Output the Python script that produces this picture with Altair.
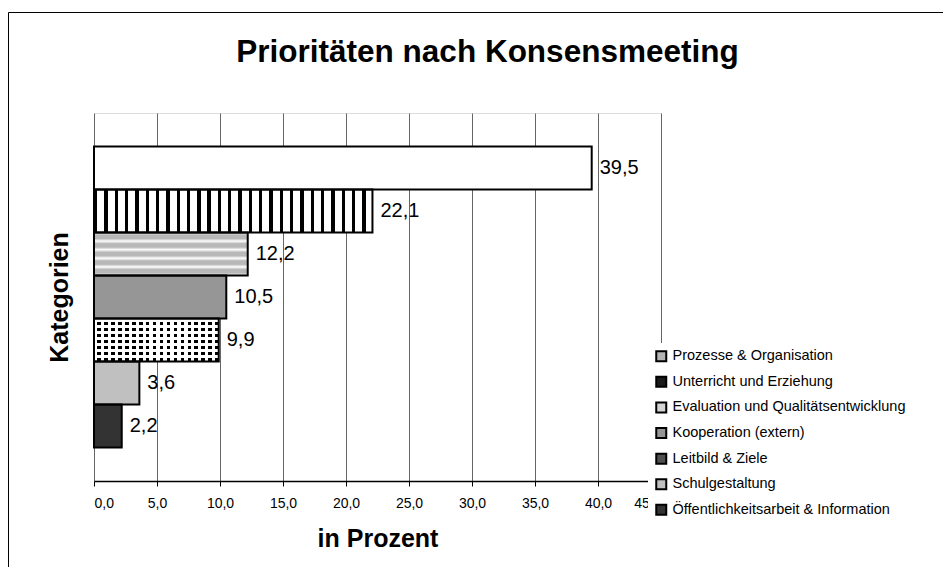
import altair as alt
import pandas as pd

categories = [
    "Prozesse & Organisation",
    "Unterricht und Erziehung",
    "Evaluation und Qualitätsentwicklung",
    "Kooperation (extern)",
    "Leitbild & Ziele",
    "Schulgestaltung",
    "Öffentlichkeitsarbeit & Information",
]
values = [39.5, 22.1, 12.2, 10.5, 9.9, 3.6, 2.2]
bar_fills = ["white", "white", "white", "#969696", "white", "#c0c0c0", "#333333"]
legend_fills = ["#b4b4b4", "#1a1a1a", "#d4d4d4", "#969696", "#505050", "#c0c0c0", "#333333"]
x_ticks = [0, 5, 10, 15, 20, 25, 30, 35, 40, 45]

df = pd.DataFrame({
    "cat": categories,
    "val": values,
    "fillcol": bar_fills,
    "label": [f"{v:.1f}".replace(".", ",") for v in values],
})

FONT = "Liberation Sans"


def hard_stripes(n, frac, c_on, c_off, horizontal):
    stops = []
    for i in range(n):
        a = i / n
        b = (i + frac) / n
        c = (i + 1) / n
        stops += [
            {"offset": a, "color": c_on},
            {"offset": b, "color": c_on},
            {"offset": b, "color": c_off},
            {"offset": c, "color": c_off},
        ]
    g = {"gradient": "linear", "stops": stops, "x1": 0, "y1": 0}
    if horizontal:
        g.update({"x2": 0, "y2": 1})
    else:
        g.update({"x2": 1, "y2": 0})
    return g


def soft_stripes(n, c_on, c_off):
    stops = []
    for i in range(n):
        stops += [
            {"offset": i / n, "color": c_off},
            {"offset": (i + 0.3) / n, "color": c_on},
            {"offset": (i + 0.7) / n, "color": c_on},
        ]
    stops.append({"offset": 1, "color": c_off})
    return {"gradient": "linear", "stops": stops, "x1": 0, "y1": 0, "x2": 0, "y2": 1}


vert_black = hard_stripes(27, 0.33, "black", "white", horizontal=False)
horiz_gray = soft_stripes(5, "#b8b8b8", "white")
dot_rows = hard_stripes(7, 0.5, "white", "black", horizontal=True)
dot_cols = hard_stripes(18, 0.5, "white", "rgba(255,255,255,0)", horizontal=False)

x_enc = alt.X(
    "val:Q",
    scale=alt.Scale(domain=[0, 45], nice=False),
    axis=alt.Axis(
        values=x_ticks,
        labelExpr="replace(format(datum.value, '.1f'), '.', ',')",
        title="in Prozent",
        titleFontSize=25,
        titleFont=FONT,
        titleFontWeight="bold",
        titleColor="black",
        titlePadding=16,
        labelFontSize=14,
        labelFont=FONT,
        labelColor="black",
        labelPadding=10,
        tickColor="black",
        tickSize=5,
        domainColor="black",
        domainWidth=1.5,
        grid=True,
        gridColor="#666666",
        gridWidth=1,
    ),
)
y_enc = alt.Y(
    "cat:N",
    sort=categories,
    scale=alt.Scale(paddingInner=0, paddingOuter=0.78),
    axis=alt.Axis(
        title="Kategorien",
        labels=False,
        ticks=False,
        domain=False,
        grid=False,
        titleFontSize=25,
        titleFont=FONT,
        titleFontWeight="bold",
        titleColor="black",
        titlePadding=22,
    ),
)

base = alt.Chart(df)

bars = base.mark_bar(strokeWidth=0).encode(
    x=x_enc, y=y_enc, fill=alt.Fill("fillcol:N", scale=None)
)

stripes_v = base.transform_filter(alt.datum.cat == categories[1]).mark_bar(
    fill=vert_black, strokeWidth=0
).encode(x=x_enc, y=y_enc)

stripes_h = base.transform_filter(alt.datum.cat == categories[2]).mark_bar(
    fill=horiz_gray, strokeWidth=0
).encode(x=x_enc, y=y_enc)

dots_a = base.transform_filter(alt.datum.cat == categories[4]).mark_bar(
    fill=dot_rows, strokeWidth=0
).encode(x=x_enc, y=y_enc)

dots_b = base.transform_filter(alt.datum.cat == categories[4]).mark_bar(
    fill=dot_cols, strokeWidth=0
).encode(x=x_enc, y=y_enc)

outline = base.mark_bar(fillOpacity=0, stroke="black", strokeWidth=2).encode(
    x=x_enc, y=y_enc
)

labels = base.mark_text(
    align="left", baseline="middle", dx=8, fontSize=20, font=FONT, color="black"
).encode(x=x_enc, y=y_enc, text="label:N")

legend_layer = base.mark_square(opacity=0).encode(
    color=alt.Color(
        "cat:N",
        sort=categories,
        scale=alt.Scale(domain=categories, range=legend_fills),
        legend=alt.Legend(
            title=None,
            orient="none",
            legendX=554,
            legendY=230,
            fillColor="white",
            padding=6,
            symbolType="square",
            symbolSize=100,
            symbolStrokeColor="black",
            symbolStrokeWidth=2,
            symbolOpacity=1,
            labelFontSize=14.5,
            labelFont=FONT,
            labelColor="black",
            labelOffset=4,
            rowPadding=6.6,
            labelLimit=400,
            zindex=1,
        ),
    )
)

frame = alt.Chart(alt.Data(values=[{}])).mark_rect(
    fillOpacity=0, stroke="black", strokeWidth=1
).encode(
    x=alt.value(-85.5), x2=alt.value(900), y=alt.value(-100.5), y2=alt.value(500)
)

chart = alt.layer(
    frame, bars, stripes_v, stripes_h, dots_a, dots_b, outline, labels, legend_layer
).properties(
    width=567,
    height=368,
    autosize=alt.AutoSizeParams(type="none"),
    padding={"left": 86, "top": 105, "right": 282, "bottom": 86},
    title=alt.TitleParams(
        text="Prioritäten nach Konsensmeeting",
        fontSize=31.5,
        font=FONT,
        fontWeight="bold",
        color="black",
        anchor="middle",
        frame="group",
        dx=110,
        dy=81,
        offset=0,
        baseline="alphabetic",
    ),
).configure_view(stroke="black", strokeWidth=1).configure(background="white")

chart.save("out.html", embed_options={"renderer": "svg", "actions": False})
